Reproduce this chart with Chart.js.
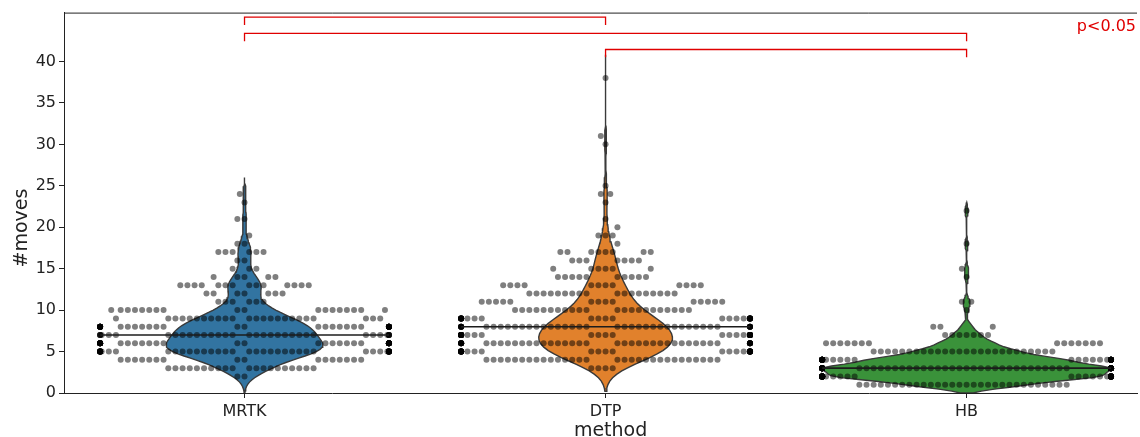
<!DOCTYPE html>
<html>
<head>
<meta charset="utf-8">
<script src="https://cdn.jsdelivr.net/npm/chart.js@4/dist/chart.umd.min.js"></script>
<style>
  html, body { margin: 0; padding: 0; background: #fff; }
  #wrap { width: 1140px; height: 437px; position: relative; }
</style>
</head>
<body>
<div id="wrap"><canvas id="chart"></canvas></div>
<script>
const methods = ["MRTK", "DTP", "HB"];

// number of trials per #moves value
const mrtkMoves  = [2, 3, 4, 5, 6, 7, 8, 9, 10, 11, 12, 13, 14, 15, 16, 17, 18, 19, 21, 23, 24];
const mrtkCounts = [2, 20, 16, 55, 45, 36, 44, 24, 18, 6, 7, 14, 5, 3, 2, 6, 2, 1, 2, 1, 1];

const dtpMoves  = [3, 4, 5, 6, 7, 8, 9, 10, 11, 12, 13, 14, 15, 16, 17, 18, 19, 20, 21, 23, 24, 25, 30, 31, 38];
const dtpCounts = [4, 30, 42, 48, 45, 44, 34, 22, 14, 18, 12, 10, 6, 7, 8, 1, 3, 1, 1, 1, 2, 1, 1, 1, 1];

const hbMoves  = [1, 2, 3, 4, 5, 6, 7, 8, 10, 11, 14, 15, 18, 22];
const hbCounts = [30, 70, 75, 50, 26, 14, 7, 3, 1, 2, 1, 1, 1, 1];

const yTicks = [0, 5, 10, 15, 20, 25, 30, 35, 40];

// significant pairs, top bracket first
const sigPairs = [[0, 1], [0, 2], [1, 2]];
const sigLabel = "p<0.05";
const xTitle = "method";
const yTitle = "#moves";

const violinColors = ["#3274a1", "#e1812c", "#3a923a"];
const kdeBandwidths = [1.0, 1.4, 0.5];

const HALF_WIDTH = 0.4;
const DOT_STEP = 0.0198;          // x distance between neighbouring dots
const R_UNIT = DOT_STEP / 2.1;    // swarm is laid out in marker radii
const ROW_GAP = 1.5;              // row distance (in radii) when the swarm was laid out

Chart.defaults.font.family = "'DejaVu Sans', sans-serif";
Chart.defaults.color = "#222";

function expand(moves, counts) {
  const out = [];
  moves.forEach((v, i) => {
    for (let k = 0; k < counts[i]; k++) out.push(v);
  });
  return out;
}

// seaborn style beeswarm, points sorted by value
function swarm(obs) {
  const placed = [];
  obs.forEach((v) => {
    const y = v * ROW_GAP;
    const neighbors = [];
    for (let k = placed.length - 1; k >= 0; k--) {
      if (y - placed[k].y < 2) neighbors.unshift(placed[k]);
      else break;
    }
    const cands = [0];
    let leftFirst = true;
    neighbors.forEach((p) => {
      const d = y - p.y;
      const dx = Math.sqrt(Math.max(4 - d * d, 0)) * 1.05;
      if (leftFirst) cands.push(p.x - dx, p.x + dx);
      else cands.push(p.x + dx, p.x - dx);
      leftFirst = !leftFirst;
    });
    const order = cands
      .map((c, i) => [Math.abs(c), i, c])
      .sort((a, b) => a[0] - b[0] || a[1] - b[1]);
    let x = 0;
    for (const [, , c] of order) {
      if (neighbors.every((p) => (c - p.x) ** 2 + (y - p.y) ** 2 >= 4 - 1e-9)) {
        x = c;
        break;
      }
    }
    placed.push({ x, y });
  });
  return placed.map((p, i) => ({
    off: Math.max(-HALF_WIDTH, Math.min(HALF_WIDTH, p.x * R_UNIT)),
    v: obs[i],
  }));
}

function kde(moves, counts, bw) {
  const n = counts.reduce((a, b) => a + b, 0);
  const lo = moves[0] - 2 * bw;
  const hi = moves[moves.length - 1] + 2 * bw;
  const ys = [];
  for (let i = 0; i < 100; i++) ys.push(lo + ((hi - lo) * i) / 99);
  const dens = ys.map((y) =>
    moves.reduce((s, v, i) => s + counts[i] * Math.exp(-0.5 * ((y - v) / bw) ** 2), 0) /
    (n * bw * Math.sqrt(2 * Math.PI))
  );
  return { ys, dens };
}

function median(sorted) {
  const m = Math.floor(sorted.length / 2);
  return sorted.length % 2 ? sorted[m] : (sorted[m - 1] + sorted[m]) / 2;
}

const groups = [
  { moves: mrtkMoves, counts: mrtkCounts },
  { moves: dtpMoves, counts: dtpCounts },
  { moves: hbMoves, counts: hbCounts },
];

const kdes = groups.map((g, i) => kde(g.moves, g.counts, kdeBandwidths[i]));
const peak = Math.max(...kdes.map((k) => Math.max(...k.dens)));

const datasets = [];

// brackets
sigPairs.forEach(([a, b], j) => {
  const h = 45.35 - j * 1.95;
  datasets.push({
    data: [{ x: a, y: h - 0.95 }, { x: a, y: h }, { x: b, y: h }, { x: b, y: h - 0.95 }],
    showLine: true,
    borderColor: "#e00000",
    borderWidth: 1.3,
    pointRadius: 0,
    fill: false,
    order: 0,
    clip: false,
  });
});

// median lines
groups.forEach((g, i) => {
  const med = median(expand(g.moves, g.counts));
  datasets.push({
    data: [{ x: i - HALF_WIDTH, y: med }, { x: i + HALF_WIDTH, y: med }],
    showLine: true,
    borderColor: "#1c1c1c",
    borderWidth: 1.6,
    pointRadius: 0,
    fill: false,
    order: 1,
  });
});

// swarm dots
const dots = [];
groups.forEach((g, i) => {
  swarm(expand(g.moves, g.counts)).forEach((p) => dots.push({ x: i + p.off, y: p.v }));
});
datasets.push({
  data: dots,
  pointRadius: 3,
  pointHoverRadius: 3,
  pointBorderWidth: 0,
  pointBackgroundColor: "rgba(0,0,0,0.5)",
  backgroundColor: "rgba(0,0,0,0.5)",
  showLine: false,
  order: 2,
});

// violins
kdes.forEach((k, i) => {
  const right = k.ys.map((y, j) => ({ x: i + (k.dens[j] / peak) * HALF_WIDTH, y }));
  const left = k.ys.map((y, j) => ({ x: i - (k.dens[j] / peak) * HALF_WIDTH, y })).reverse();
  const shape = right.concat(left);
  shape.push(right[0]);
  datasets.push({
    data: shape,
    showLine: true,
    fill: "shape",
    backgroundColor: violinColors[i],
    borderColor: "#3a3a3a",
    borderWidth: 1.4,
    pointRadius: 0,
    tension: 0,
    order: 3,
  });
});

const framePlugin = {
  id: "frame",
  afterDraw(chart) {
    const { ctx, chartArea } = chart;
    const xs = chart.scales.x;
    const ys = chart.scales.y;
    ctx.save();
    ctx.strokeStyle = "#222";
    ctx.lineWidth = 1;
    ctx.beginPath();
    ctx.moveTo(chartArea.left, chartArea.top + 0.5);
    ctx.lineTo(chartArea.right, chartArea.top + 0.5);
    ctx.stroke();

    ctx.fillStyle = "#e00000";
    ctx.font = "16px 'DejaVu Sans'";
    ctx.textAlign = "right";
    ctx.textBaseline = "middle";
    ctx.fillText(sigLabel, chartArea.right - 1, ys.getPixelForValue(44.2));

    // axis titles, placed like the matplotlib labels
    ctx.fillStyle = "#222";
    ctx.font = "19px 'DejaVu Sans'";
    ctx.textAlign = "center";
    ctx.textBaseline = "alphabetic";
    ctx.fillText(xTitle, xs.getPixelForValue(1.014), 436);
    ctx.translate(26.5, ys.getPixelForValue(19.9));
    ctx.rotate(-Math.PI / 2);
    ctx.fillText(yTitle, 0, 0);
    ctx.restore();
  },
};

new Chart(document.getElementById("chart"), {
  type: "scatter",
  data: { datasets },
  options: {
    responsive: true,
    maintainAspectRatio: false,
    animation: false,
    events: [],
    layout: { padding: { top: 10, right: 0, left: 0, bottom: 0 } },
    plugins: { legend: { display: false }, tooltip: { enabled: false } },
    scales: {
      x: {
        type: "linear",
        min: -0.5,
        max: 2.472,
        bounds: "data",
        afterBuildTicks: (s) => { s.ticks = methods.map((_, i) => ({ value: i })); },
        afterFit: (s) => { s.height = 44; },
        ticks: { callback: (v) => methods[v], font: { size: 16 }, padding: 4, color: "#222" },
        grid: { drawOnChartArea: false, drawTicks: true, tickLength: 5, color: "#222" },
        border: { display: true, color: "#222", width: 1 },
      },
      y: {
        min: 0,
        max: 45.9,
        bounds: "data",
        afterBuildTicks: (s) => { s.ticks = yTicks.map((v) => ({ value: v })); },
        afterFit: (s) => { s.width = 64; },
        ticks: { font: { size: 16 }, padding: 3, color: "#222" },
        grid: { drawOnChartArea: false, drawTicks: true, tickLength: 5, color: "#222" },
        border: { display: true, color: "#222", width: 1 },
      },
    },
  },
  plugins: [framePlugin],
});
</script>
</body>
</html>
